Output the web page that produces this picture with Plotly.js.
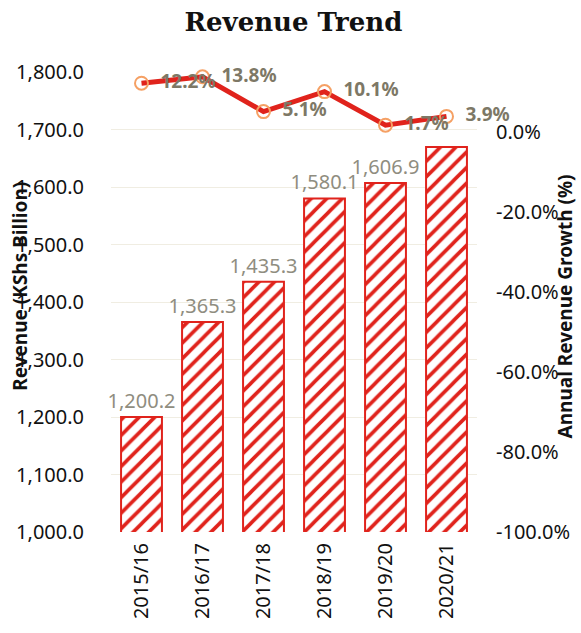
<!DOCTYPE html>
<html><head><meta charset="utf-8">
<script src="https://cdn.plot.ly/plotly-3.0.1.min.js"></script>
<style>html,body{margin:0;padding:0;background:#fff}#chart{width:581px;height:633px}</style>
</head><body><div id="chart"></div>
<script>
const years = ['2015/16','2016/17','2017/18','2018/19','2019/20','2020/21'];
const revenue = [1200.2, 1365.3, 1435.3, 1580.1, 1606.9, 1669.6];
const growth = [12.2, 13.8, 5.1, 10.1, 1.7, 3.9];
const revenueLabels = ['1,200.2','1,365.3','1,435.3','1,580.1','1,606.9',''];
const growthLabels = ['12.2%','13.8%','5.1%','10.1%','1.7%','3.9%'];
const growthTickVals = [0, -20, -40, -60, -80, -100];
const growthTickText = ['0.0%','-20.0%','-40.0%','-60.0%','-80.0%','-100.0%'];

const tickFont = {family: 'Noto Sans, Open Sans, sans-serif', size: 20, color: '#111'};
const bars = {
  type: 'bar', x: years, y: revenue, yaxis: 'y',
  width: 0.67,
  marker: {color: '#ffffff', line: {color: '#e0231c', width: 2},
    pattern: {shape: '/', fgcolor: '#e0231c', bgcolor: '#ffffff', size: 11, solidity: 0.33}},
  text: revenueLabels, textposition: 'outside', cliponaxis: false, constraintext: 'none',
  textfont: {family: 'Noto Sans, sans-serif', size: 20, color: '#8f8d80'},
  hoverinfo: 'skip'
};
const line = {
  type: 'scatter', mode: 'lines+markers+text', x: years, y: growth, yaxis: 'y2',
  line: {color: '#e0231c', width: 5},
  marker: {symbol: 'circle-open', size: 13, color: '#f5a064', line: {width: 2, color: '#f5a064'}},
  text: growthLabels.map(s => '\u00a0\u00a0' + s), textposition: 'middle right', cliponaxis: false,
  textfont: {family: 'Noto Sans, sans-serif', size: 19, color: '#7d7866', weight: 'bold'},
  hoverinfo: 'skip'
};
const titleFont = {family: 'Noto Sans, sans-serif', size: 19, color: '#111', weight: 'bold'};
const layout = {
  width: 581, height: 633,
  margin: {l: 111, r: 104, t: 72, b: 101},
  paper_bgcolor: '#fff', plot_bgcolor: '#fff',
  showlegend: false,
  title: {text: '<b>Revenue Trend</b>', x: 0.505, xref: 'container', y: 0.98, yref: 'container',
    font: {family: 'DejaVu Serif, serif', size: 26, color: '#111'}},
  xaxis: {type: 'category', tickangle: -90, tickfont: tickFont, showline: false, ticks: '',
    showgrid: false, zeroline: false, ticklabelstandoff: 6},
  yaxis: {range: [1000, 1800], dtick: 100, tickformat: ',.1f', tickfont: tickFont,
    gridcolor: '#f0ede2', gridwidth: 1, zeroline: false, showline: false, ticks: '',
    automargin: false, ticklabelstandoff: 26},
  yaxis2: {range: [-100, 15], overlaying: 'y', side: 'right', tickvals: growthTickVals,
    ticktext: growthTickText, tickfont: tickFont, showgrid: false, zeroline: false,
    showline: false, ticks: '', automargin: false, ticklabelstandoff: 18},
  annotations: [
    {text: 'Revenue (KShs Billion)', textangle: -90, xref: 'paper', yref: 'paper', x: -0.249, y: 0.535,
     xanchor: 'center', yanchor: 'middle', showarrow: false, font: titleFont},
    {text: 'Annual Revenue Growth (%)', textangle: -90, xref: 'paper', yref: 'paper', x: 1.24, y: 0.49,
     xanchor: 'center', yanchor: 'middle', showarrow: false, font: titleFont}
  ]
};
Plotly.newPlot('chart', [bars, line], layout, {displayModeBar: false, staticPlot: true});
</script></body></html>
